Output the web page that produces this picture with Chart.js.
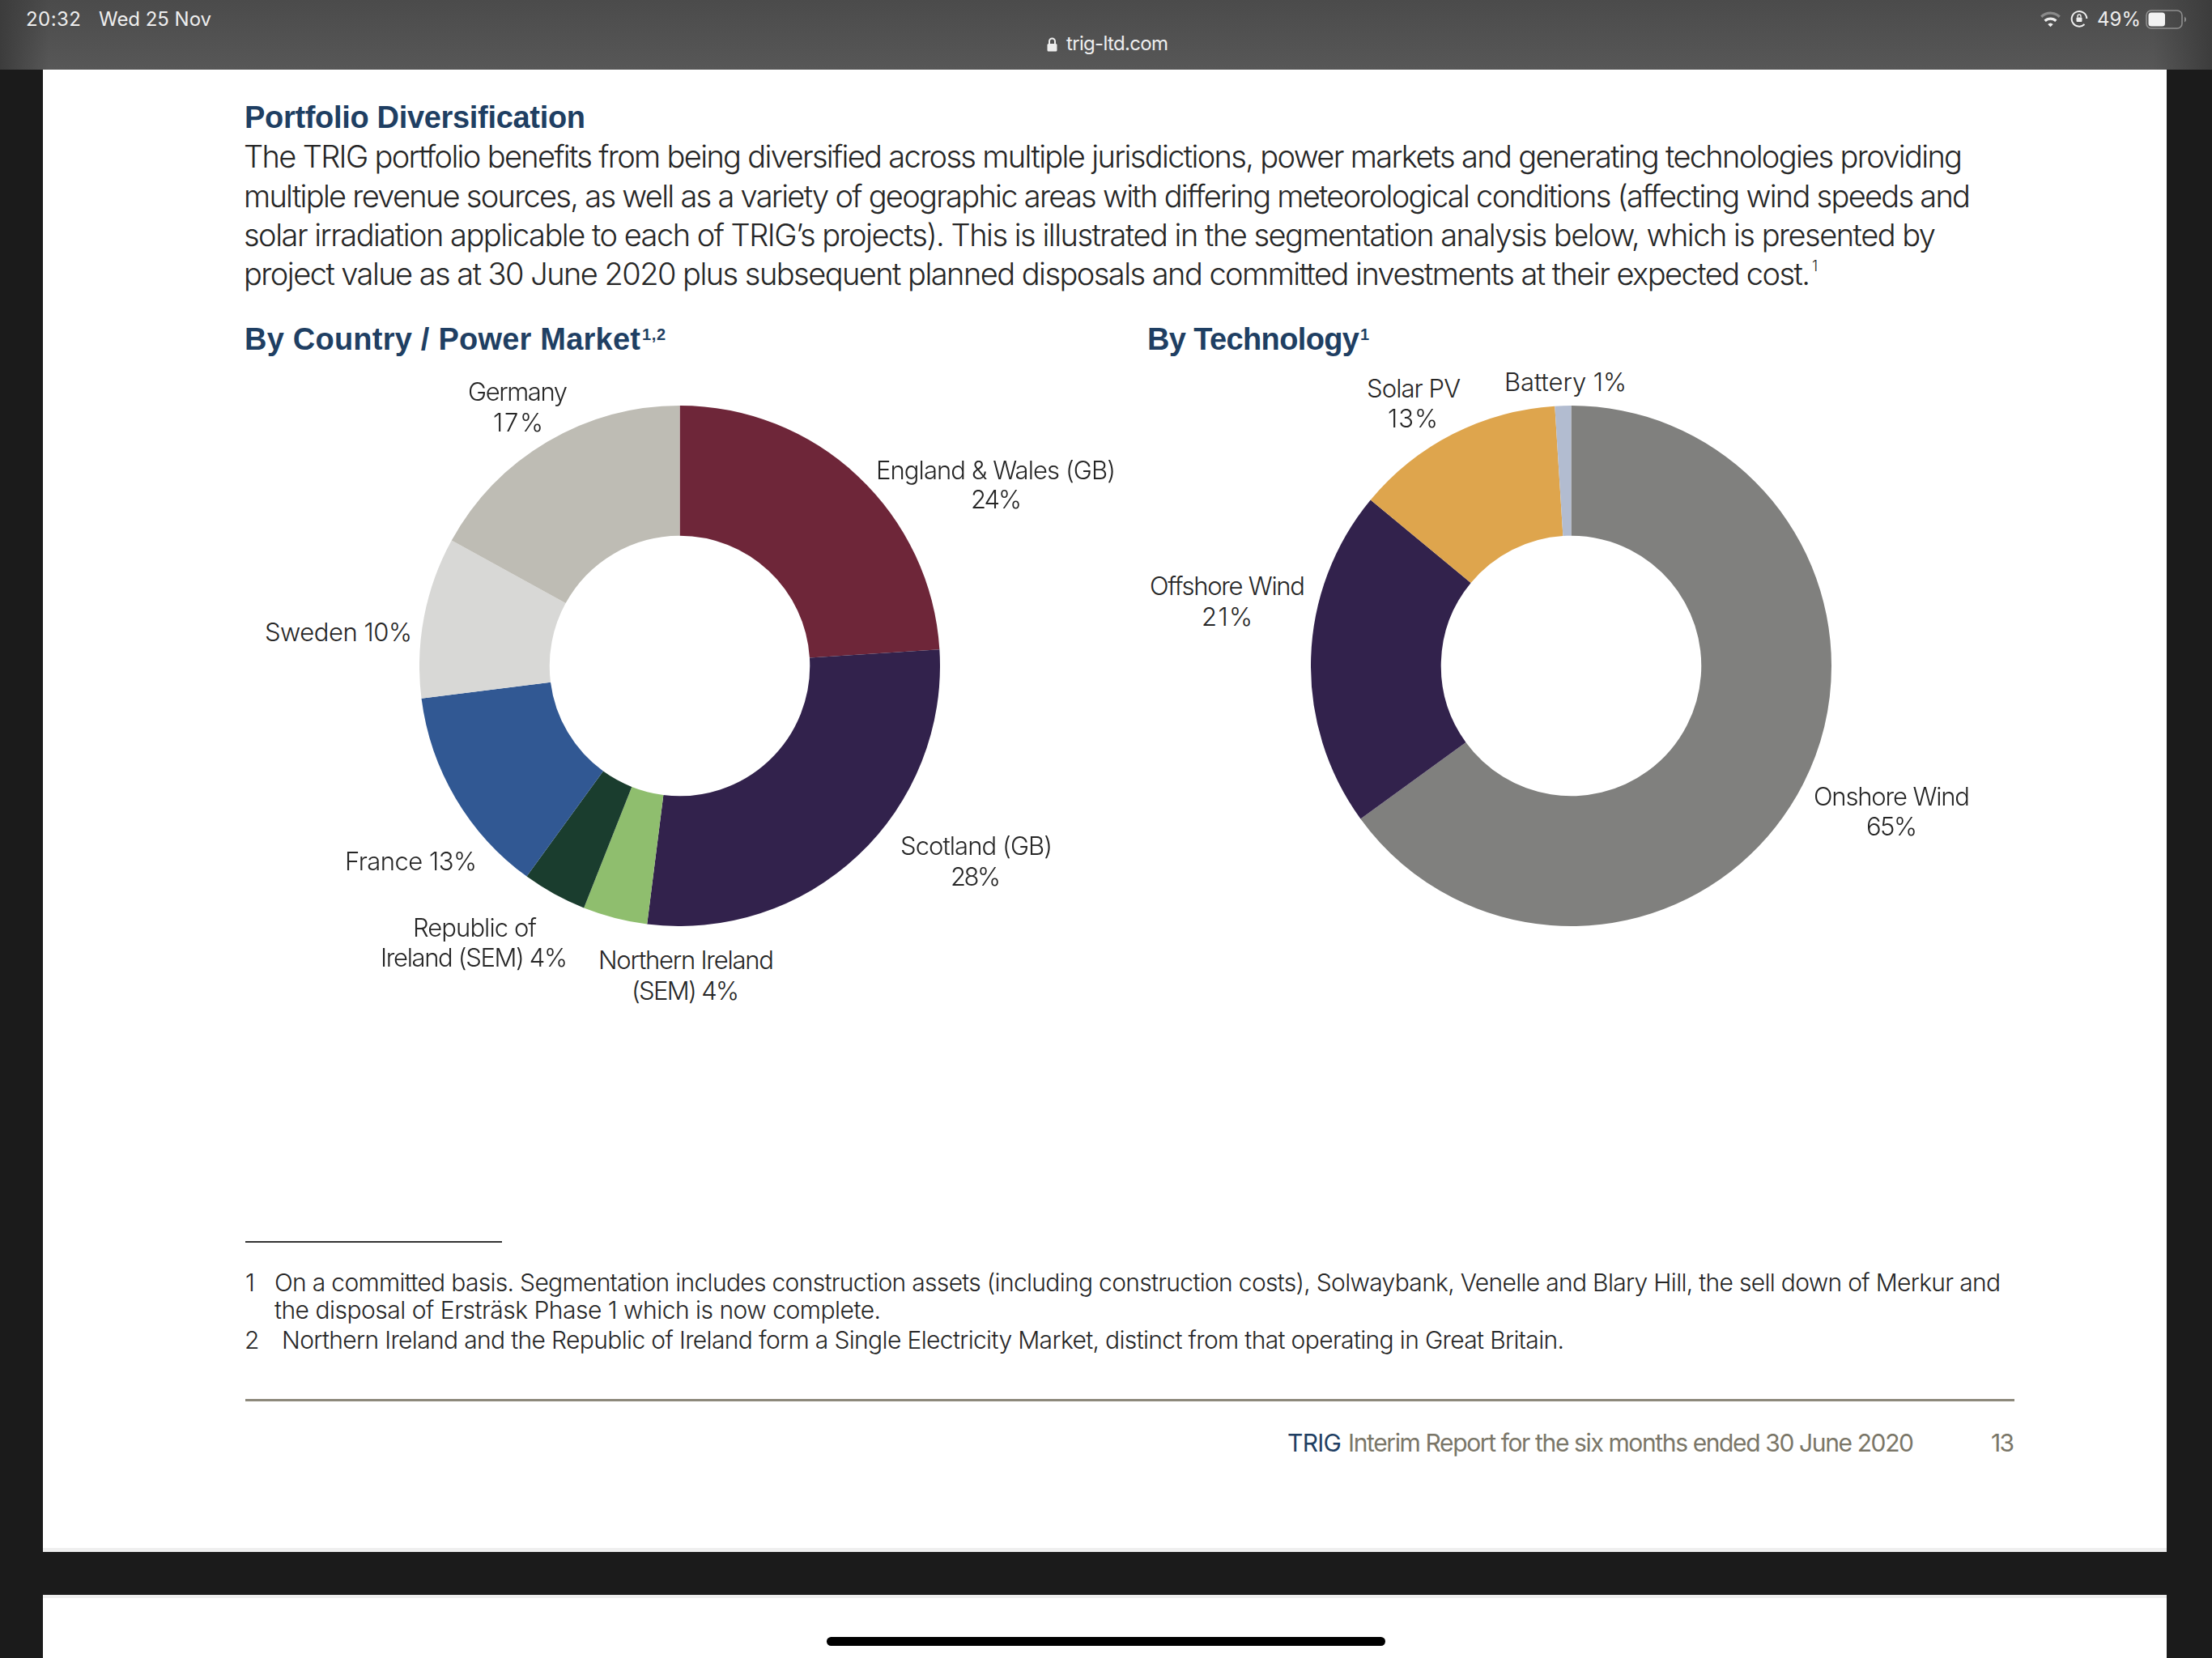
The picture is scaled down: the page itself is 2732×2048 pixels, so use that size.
<!DOCTYPE html>
<html>
<head>
<meta charset="utf-8">
<title>Portfolio Diversification</title>
<script src="https://cdn.jsdelivr.net/npm/chart.js@4/dist/chart.umd.min.js"></script>
<style>
html, body { margin: 0; padding: 0; width: 2732px; height: 2048px; overflow: hidden; background: #1b1b1b; }
.box { position: absolute; }
.t { position: absolute; white-space: pre; }
canvas { position: absolute; }
#bar { left: 0; top: 0; width: 2732px; height: 86px;
  background: linear-gradient(90deg, #3c3c3c 0, rgba(60,60,60,0) 60px, rgba(60,60,60,0) 2660px, #3c3c3c 2732px),
              linear-gradient(180deg, #4b4b4b 0, #575757 86px); }
#page { left: 53px; top: 86px; width: 2623px; height: 1831px; background: #fff; border-bottom: 0; }
#pageEdge { left: 53px; top: 1912px; width: 2623px; height: 5px; background: #efefef; }
#page2 { left: 53px; top: 1970px; width: 2623px; height: 78px; background: #fff; }
#page2Edge { left: 53px; top: 1970px; width: 2623px; height: 4px; background: #efefef; }
#home { left: 1021px; top: 2022px; width: 690px; height: 11px; background: #000; border-radius: 6px; }
</style>
</head>
<body>
<div class="box" id="bar"></div>
<div class="box" id="page"></div>
<div class="box" id="pageEdge"></div>
<div class="box" id="page2"></div>
<div class="box" id="page2Edge"></div>
<div class="box" id="home"></div>

<!-- status bar icons -->
<svg class="box" style="left:1293px;top:46px" width="13" height="18" viewBox="0 0 13 18">
  <path d="M3 8V5a3.5 3.5 0 0 1 7 0v3" fill="none" stroke="#eee" stroke-width="2"/>
  <rect x="0.5" y="8" width="12" height="9.5" rx="1.5" fill="#eee"/>
</svg>
<svg class="box" style="left:2520px;top:12px" width="25" height="23" viewBox="0 0 20 18.4">
  <path d="M1 7a13 13 0 0 1 18 0" fill="none" stroke="#8a8a8a" stroke-width="2.6"/>
  <path d="M4.5 11a8 8 0 0 1 11 0" fill="none" stroke="#eee" stroke-width="2.6"/>
  <path d="M7.4 14.4a3.8 3.8 0 0 1 5.2 0L10 17z" fill="#eee"/>
</svg>
<svg class="box" style="left:2557px;top:12px" width="22" height="22" viewBox="0 0 22 22">
  <path d="M17.5 18A9.3 9.3 0 1 1 20.3 11" fill="none" stroke="#eee" stroke-width="2"/>
  <rect x="7.5" y="9.5" width="7" height="5.5" rx="1" fill="#eee"/>
  <path d="M9 9.5V8a2 2 0 0 1 4 0v1.5" fill="none" stroke="#eee" stroke-width="1.4"/>
</svg>
<svg class="box" style="left:2650px;top:12px" width="54" height="24" viewBox="0 0 54 24">
  <rect x="1" y="1" width="44" height="22" rx="6" fill="none" stroke="#8f8f8f" stroke-width="1.6"/>
  <rect x="3.5" y="3.5" width="20.5" height="17" rx="3.5" fill="#f2f2f2"/>
  <path d="M48 8.5a4 4 0 0 1 0 7z" fill="#8f8f8f"/>
</svg>

<canvas id="countryChart" width="643" height="643" style="left:518px;top:501px;width:643px;height:643px"></canvas>
<canvas id="technologyChart" width="643" height="643" style="left:1619px;top:501px;width:643px;height:643px"></canvas>

<script>
const countryLabels = ['England & Wales (GB)', 'Scotland (GB)', 'Northern Ireland\n(SEM)', 'Republic of\nIreland (SEM)', 'France', 'Sweden', 'Germany'];
const countryValues = [24, 28, 4, 4, 13, 10, 17];
const countryColors = ['#6e2639', '#32224c', '#8fbe6e', '#1a3d2e', '#315893', '#d8d8d6', '#bebcb4'];

const technologyLabels = ['Onshore Wind', 'Offshore Wind', 'Solar PV', 'Battery'];
const technologyValues = [65, 21, 13, 1];
const technologyColors = ['#80807e', '#32224c', '#dea54d', '#b2bcd0'];

const NAVY = '#1f3f63';
const INK = '#262626';
const LIGHT = 'Inter';
const BOLD = '"Liberation Sans"';

const measure = document.createElement('canvas').getContext('2d');

// puts one line of text with its baseline at y, squeezed to run from x0 to x1
function put(text, x0, x1, y, o) {
    o = Object.assign({ size: 30, weight: 300, family: LIGHT, color: INK }, o);
    const font = `${o.weight} ${o.size}px ${o.family}`;
    measure.font = font;
    const m = measure.measureText(text);
    const asc = m.fontBoundingBoxAscent, desc = m.fontBoundingBoxDescent;
    const el = document.createElement('div');
    el.className = 't';
    el.textContent = text;
    el.style.font = font;
    el.style.lineHeight = (asc + desc) + 'px';
    el.style.left = x0 + 'px';
    el.style.top = (y - asc) + 'px';
    el.style.color = o.color;
    if (text.length > 1) el.style.letterSpacing = ((x1 - x0 - m.width) / (text.length - 1)) + 'px';
    document.body.appendChild(el);
}

// page text
const headOpts = { size: 38, weight: 700, family: BOLD, color: NAVY };
put('Portfolio Diversification', 302, 723, 158, headOpts);
const bodyOpts = { size: 38 };
put('The TRIG portfolio benefits from being diversified across multiple jurisdictions, power markets and generating technologies providing', 301, 2424, 207, bodyOpts);
put('multiple revenue sources, as well as a variety of geographic areas with differing meteorological conditions (affecting wind speeds and', 301, 2434, 256, bodyOpts);
put('solar irradiation applicable to each of TRIG\u2019s projects). This is illustrated in the segmentation analysis below, which is presented by', 301, 2391, 304, bodyOpts);
put('project value as at 30 June 2020 plus subsequent planned disposals and committed investments at their expected cost.', 301, 2236, 352, bodyOpts);
put('1', 2238, 2244, 335, { size: 18 });

put('By Country / Power Market', 302, 791, 432, headOpts);
put('1,2', 793, 822, 420, { size: 20, weight: 700, family: BOLD, color: NAVY });
put('By Technology', 1417, 1679, 432, headOpts);
put('1', 1680, 1688, 420, { size: 20, weight: 700, family: BOLD, color: NAVY });

// footnotes and footer
put('1', 303, 316, 1595);
put('On a committed basis. Segmentation includes construction assets (including construction costs), Solwaybank, Venelle and Blary Hill, the sell down of Merkur and', 339, 2471, 1595);
put('the disposal of Erstr\u00e4sk Phase 1 which is now complete.', 339, 1088, 1629);
put('2', 302, 319, 1666);
put('Northern Ireland and the Republic of Ireland form a Single Electricity Market, distinct from that operating in Great Britain.', 348, 1932, 1666);
put('TRIG', 1590, 1657, 1793, { color: NAVY, weight: 400 });
put('Interim Report for the six months ended 30 June 2020', 1665, 2364, 1793, { color: '#7a7668', weight: 400 });
put('13', 2459, 2488, 1793, { color: '#7a7668', weight: 400 });

// status bar
const barOpts = { size: 24, weight: 400, color: '#eeeeee' };
put('20:32', 32, 100, 32, barOpts);
put('Wed 25 Nov', 122, 261, 32, barOpts);
put('trig-ltd.com', 1317, 1443, 62, barOpts);
put('49%', 2590, 2644, 32, barOpts);

// where each slice label sits: separator before the percentage, then [x0, x1, baseline] per line
const countrySpots = [
    { sep: '\n', at: [[1082, 1378, 592], [1199, 1262, 628]] },
    { sep: '\n', at: [[1112, 1300, 1056], [1174, 1236, 1094]] },
    { sep: ' ', at: [[739, 956, 1197], [780, 913, 1235]] },
    { sep: ' ', at: [[510, 663, 1157], [470, 701, 1194]] },
    { sep: ' ', at: [[426, 589, 1075]] },
    { sep: ' ', at: [[327, 509, 792]] },
    { sep: '\n', at: [[578, 701, 495], [609, 671, 533]] }
];
const technologySpots = [
    { sep: '\n', at: [[2240, 2433, 995], [2305, 2368, 1032]] },
    { sep: '\n', at: [[1420, 1612, 735], [1484, 1547, 773]] },
    { sep: '\n', at: [[1688, 1804, 491], [1714, 1776, 528]] },
    { sep: ' ', at: [[1858, 2009, 483]] }
];

function sliceLabels(labels, values, spots) {
    labels.forEach((name, i) => {
        const lines = (name + spots[i].sep + values[i] + '%').split('\n');
        lines.forEach((line, j) => {
            const a = spots[i].at[j];
            put(line, a[0], a[1], a[2], { size: 31 });
        });
    });
}
sliceLabels(countryLabels, countryValues, countrySpots);
sliceLabels(technologyLabels, technologyValues, technologySpots);

function donut(id, labels, values, colors) {
    new Chart(document.getElementById(id).getContext('2d'), {
        type: 'doughnut',
        data: {
            labels: labels,
            datasets: [{ data: values, backgroundColor: colors, borderWidth: 0 }]
        },
        options: {
            responsive: false,
            animation: false,
            cutout: '50%',
            layout: { padding: 0 },
            plugins: { legend: { display: false }, title: { display: false }, tooltip: { enabled: false } }
        }
    });
}
donut('countryChart', countryLabels, countryValues, countryColors);
donut('technologyChart', technologyLabels, technologyValues, technologyColors);

// page rules
[[303, 1533, 317, 2, '#333333'], [303, 1728, 2185, 3, '#8d897b']].forEach(r => {
    const el = document.createElement('div');
    el.className = 'box';
    el.style.cssText = `left:${r[0]}px;top:${r[1]}px;width:${r[2]}px;height:${r[3]}px;background:${r[4]}`;
    document.body.appendChild(el);
});
</script>
</body>
</html>
